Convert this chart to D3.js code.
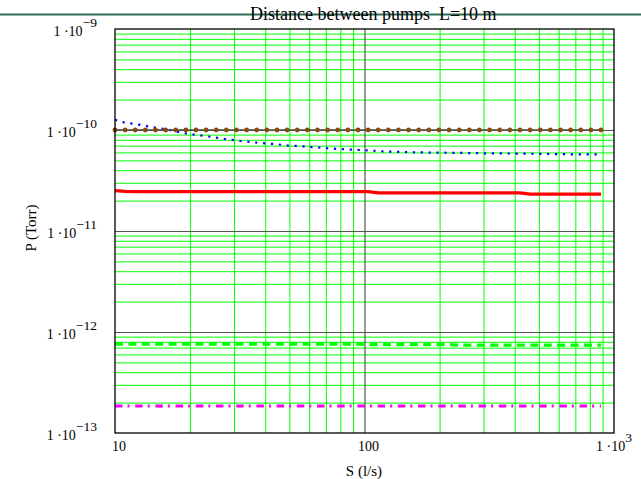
<!DOCTYPE html>
<html>
<head>
<meta charset="utf-8">
<script src="https://cdn.jsdelivr.net/npm/d3@7/dist/d3.min.js"></script>
<style>
  html, body { margin: 0; padding: 0; background: #fff; }
  svg { display: block; }
  text { font-family: "Liberation Serif", "Times New Roman", serif; fill: #000; }
</style>
</head>
<body>
<svg id="chart" width="641" height="479"></svg>
<script>
// Pumping speed S (l/s), log-spaced evaluation points
const S = [10, 10.98, 12.05, 13.23, 14.53, 15.96, 17.52, 19.24, 21.11, 23.18,
  25.45, 27.94, 30.68, 33.68, 36.98, 40.61, 44.58, 48.95, 53.74, 59.01,
  64.79, 71.13, 78.10, 85.75, 94.15, 103.4, 113.5, 124.6, 136.8, 150.2,
  164.9, 181.1, 198.8, 218.3, 239.7, 263.2, 288.9, 317.2, 348.3, 382.4,
  419.9, 461.0, 506.2, 555.8, 610.2, 670.0, 735.6, 807.7, 886.8];

// Pressure (Torr) for each trace
const pBrown = [1e-10, 1e-10, 1e-10, 1e-10, 1e-10, 1e-10, 1e-10, 1e-10, 1e-10, 1e-10,
  1e-10, 1e-10, 1e-10, 1e-10, 1e-10, 1e-10, 1e-10, 1e-10, 1e-10, 1e-10,
  1e-10, 1e-10, 1e-10, 1e-10, 1e-10, 1e-10, 1e-10, 1e-10, 1e-10, 1e-10,
  1e-10, 1e-10, 1e-10, 1e-10, 1e-10, 1e-10, 1e-10, 1e-10, 1e-10, 1e-10,
  1e-10, 1e-10, 1e-10, 1e-10, 1e-10, 1e-10, 1e-10, 1e-10, 1e-10];

const pBlue = [1.264e-10, 1.181e-10, 1.146e-10, 1.100e-10, 1.054e-10, 1.023e-10, 0.967e-10, 0.926e-10, 0.894e-10, 0.869e-10,
  0.840e-10, 0.809e-10, 0.787e-10, 0.770e-10, 0.749e-10, 0.736e-10, 0.722e-10, 0.703e-10, 0.695e-10, 0.684e-10,
  0.672e-10, 0.660e-10, 0.649e-10, 0.642e-10, 0.635e-10, 0.629e-10, 0.618e-10, 0.611e-10, 0.608e-10, 0.604e-10,
  0.600e-10, 0.598e-10, 0.597e-10, 0.595e-10, 0.594e-10, 0.591e-10, 0.589e-10, 0.587e-10, 0.586e-10, 0.585e-10,
  0.583e-10, 0.582e-10, 0.581e-10, 0.578e-10, 0.577e-10, 0.575e-10, 0.574e-10, 0.573e-10, 0.573e-10];

const pRed = [2.515e-11, 2.469e-11, 2.458e-11, 2.458e-11, 2.458e-11, 2.458e-11, 2.458e-11, 2.458e-11, 2.458e-11, 2.458e-11,
  2.458e-11, 2.458e-11, 2.458e-11, 2.458e-11, 2.458e-11, 2.458e-11, 2.458e-11, 2.458e-11, 2.458e-11, 2.458e-11,
  2.458e-11, 2.458e-11, 2.458e-11, 2.458e-11, 2.458e-11, 2.458e-11, 2.386e-11, 2.386e-11, 2.386e-11, 2.386e-11,
  2.386e-11, 2.386e-11, 2.386e-11, 2.386e-11, 2.386e-11, 2.386e-11, 2.386e-11, 2.386e-11, 2.386e-11, 2.386e-11,
  2.386e-11, 2.317e-11, 2.317e-11, 2.317e-11, 2.317e-11, 2.317e-11, 2.317e-11, 2.317e-11, 2.317e-11];

const pGreen = [7.61e-13, 7.61e-13, 7.61e-13, 7.61e-13, 7.61e-13, 7.61e-13, 7.61e-13, 7.61e-13, 7.61e-13, 7.61e-13,
  7.61e-13, 7.61e-13, 7.61e-13, 7.61e-13, 7.61e-13, 7.61e-13, 7.61e-13, 7.61e-13, 7.61e-13, 7.61e-13,
  7.61e-13, 7.61e-13, 7.61e-13, 7.61e-13, 7.61e-13, 7.50e-13, 7.50e-13, 7.50e-13, 7.50e-13, 7.50e-13,
  7.50e-13, 7.50e-13, 7.50e-13, 7.50e-13, 7.40e-13, 7.40e-13, 7.40e-13, 7.40e-13, 7.40e-13, 7.40e-13,
  7.40e-13, 7.40e-13, 7.40e-13, 7.40e-13, 7.40e-13, 7.40e-13, 7.40e-13, 7.40e-13, 7.40e-13];

const pMagenta = [1.85e-13, 1.85e-13, 1.85e-13, 1.85e-13, 1.85e-13, 1.85e-13, 1.85e-13, 1.85e-13, 1.85e-13, 1.85e-13,
  1.85e-13, 1.85e-13, 1.85e-13, 1.85e-13, 1.85e-13, 1.85e-13, 1.85e-13, 1.85e-13, 1.85e-13, 1.85e-13,
  1.85e-13, 1.85e-13, 1.85e-13, 1.85e-13, 1.85e-13, 1.85e-13, 1.85e-13, 1.85e-13, 1.85e-13, 1.85e-13,
  1.85e-13, 1.85e-13, 1.85e-13, 1.85e-13, 1.85e-13, 1.85e-13, 1.85e-13, 1.85e-13, 1.85e-13, 1.85e-13,
  1.85e-13, 1.85e-13, 1.85e-13, 1.85e-13, 1.85e-13, 1.85e-13, 1.85e-13, 1.85e-13, 1.85e-13];

// Axis ticks and their labels
const xTicks = [10, 100, 1000];
const xTickBase = ["10", "100", "1 \u00B710"];
const xTickExp = ["", "", "3"];
const yTicks = [1e-13, 1e-12, 1e-11, 1e-10, 1e-9];
const yTickExp = ["\u221213", "\u221212", "\u221211", "\u221210", "\u22129"];

const titleText = "Distance between pumps  L=10 m";
const xTitle = "S (l/s)";
const yTitle = "P (Torr)";

const plotL = 115, plotR = 614, plotT = 29, plotB = 433;
const svg = d3.select("#chart");

const x = d3.scaleLog().domain([10, 1000]).range([plotL, plotR]);
const y = d3.scaleLog().domain([1e-13, 1e-9]).range([plotB, plotT]);

// minor and major grid positions
const xMinor = [], yMinor = [];
[10, 100].forEach(d => { for (let k = 2; k <= 9; k++) xMinor.push(d * k); });
[1e-13, 1e-12, 1e-11, 1e-10].forEach(d => { for (let k = 2; k <= 9; k++) yMinor.push(d * k); });
const xMajorInner = [100];
const yMajorInner = [1e-12, 1e-11, 1e-10];

// header rule across the page
svg.append("line").attr("x1", 0).attr("x2", 641).attr("y1", 14.5).attr("y2", 14.5)
  .attr("stroke", "#2f6b5a").attr("stroke-width", 2);

svg.append("text").attr("x", 250).attr("y", 19.5).attr("font-size", 18)
  .attr("xml:space", "preserve").style("white-space", "pre").text(titleText);

// grid via axes
function grid(axis, cls, color, width) {
  const g = svg.append("g").attr("class", cls);
  g.call(axis);
  g.select(".domain").remove();
  g.selectAll(".tick text").remove();
  g.selectAll(".tick line").attr("stroke", color).attr("stroke-width", width);
  return g;
}
grid(d3.axisBottom(x).tickValues(xMinor).tickSize(-(plotB - plotT)).tickFormat(""), "xminor", "#00ff00", 1)
  .attr("transform", `translate(0,${plotB})`);
grid(d3.axisLeft(y).tickValues(yMinor).tickSize(-(plotR - plotL)).tickFormat(""), "yminor", "#00ff00", 1)
  .attr("transform", `translate(${plotL},0)`);
grid(d3.axisBottom(x).tickValues(xMajorInner).tickSize(-(plotB - plotT)).tickFormat(""), "xmajor", "#555", 1.2)
  .attr("transform", `translate(0,${plotB})`);
grid(d3.axisLeft(y).tickValues(yMajorInner).tickSize(-(plotR - plotL)).tickFormat(""), "ymajor", "#555", 1.2)
  .attr("transform", `translate(${plotL},0)`);

const line = d3.line().x(d => x(d[0])).y(d => y(d[1]));
const pts = arr => S.map((s, i) => [s, arr[i]]);

// traces
svg.append("path").attr("d", line(pts(pMagenta))).attr("fill", "none")
  .attr("stroke", "#ff00ff").attr("stroke-width", 3).attr("stroke-dasharray", "7.5,5,2,5.7");
svg.append("path").attr("d", line(pts(pGreen))).attr("fill", "none")
  .attr("stroke", "#00ff00").attr("stroke-width", 3.3).attr("stroke-dasharray", "8,5.4");
svg.append("path").attr("d", line(pts(pRed))).attr("fill", "none")
  .attr("stroke", "#ff0000").attr("stroke-width", 3.3);
svg.append("path").attr("d", line(pts(pBlue))).attr("fill", "none")
  .attr("stroke", "#0000ff").attr("stroke-width", 2.2).attr("stroke-dasharray", "2.2,5.7");
svg.append("path").attr("d", line(pts(pBrown))).attr("fill", "none")
  .attr("stroke", "#4a4a4a").attr("stroke-width", 1.5);
svg.append("g").selectAll("circle").data(pts(pBrown)).join("circle")
  .attr("cx", d => x(d[0])).attr("cy", d => y(d[1])).attr("r", 2.4)
  .attr("fill", "#8a4a0e");

// frame
svg.append("rect").attr("x", plotL).attr("y", plotT).attr("width", plotR - plotL).attr("height", plotB - plotT)
  .attr("fill", "none").attr("stroke", "#000").attr("stroke-width", 1.3);

// y tick labels
yTicks.forEach((v, i) => {
  const t = svg.append("text").attr("x", 97).attr("y", y(v) + 7).attr("font-size", 14)
    .attr("text-anchor", "end");
  t.append("tspan").text("1 \u00B710");
  t.append("tspan").attr("dy", -9).attr("font-size", 13.5).text(yTickExp[i]);
});

// x tick labels
xTicks.forEach((v, i) => {
  const t = svg.append("text").attr("y", 451).attr("font-size", 14).attr("text-anchor", "middle")
    .attr("x", x(v) + (xTickExp[i] ? 0 : 4));
  t.append("tspan").text(xTickBase[i]);
  if (xTickExp[i]) t.append("tspan").attr("dy", -9).attr("font-size", 13.5).text(xTickExp[i]);
});

// axis titles
svg.append("text").attr("x", 364).attr("y", 476).attr("font-size", 15)
  .attr("text-anchor", "middle").text(xTitle);
svg.append("text").attr("transform", "translate(36,228) rotate(-90)").attr("font-size", 15)
  .attr("text-anchor", "middle").text(yTitle);
</script>
</body>
</html>
